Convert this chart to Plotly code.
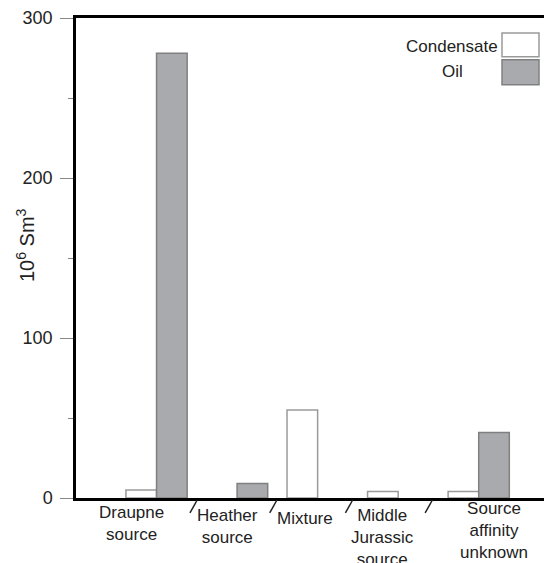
import plotly.graph_objects as go

categories = ["Draupne source", "Heather source", "Mixture", "Middle Jurassic source", "Source affinity unknown"]
category_labels = ["Draupne<br>source", "Heather<br>source", "Mixture", "Middle<br>Jurassic<br>source", "Source<br>affinity<br>unknown"]
condensate = [5, None, 55, 4, 4]
oil = [278, 9, None, None, 41]
y_ticks = [0, 100, 200, 300]

FONT = "Liberation Sans, Arial, sans-serif"
OFF = 8  # default body margin of the html page
W, H = 552 - OFF, 563 - OFF
L, T, B, R = 76 - OFF, 16 - OFF, 65, 0
plot_w = W - L - R
plot_h = H - T - B

def px_to_paper_x(px):
    return (px - OFF - L) / plot_w

def px_to_paper_y(py):
    return (H + OFF - B - py) / plot_h

fig = go.Figure()
fig.add_trace(go.Bar(x=categories, y=condensate, name="Condensate",
                     marker=dict(color="white", line=dict(color="#9a9a9a", width=1.5)),
                     showlegend=False))
fig.add_trace(go.Bar(x=categories, y=oil, name="Oil",
                     marker=dict(color="#a9aaae", line=dict(color="#808080", width=1.5)),
                     showlegend=False))

# category labels (offset as in reference)
label_x = [-0.31, 0.88, 1.84, 2.81, 4.19]
label_top = [501, 504, 507, 504, 497]
annotations = []
for lx, ly, txt in zip(label_x, label_top, category_labels):
    annotations.append(dict(x=lx, xref="x", y=px_to_paper_y(ly), yref="paper",
                            text=txt, showarrow=False, xanchor="center", yanchor="top",
                            font=dict(family=FONT, size=17, color="#222")))

# y axis title
annotations.append(dict(x=px_to_paper_x(25), xref="paper", y=px_to_paper_y(244), yref="paper",
                        text="10<sup>6</sup> Sm<sup>3</sup>", textangle=-90, showarrow=False,
                        xanchor="center", yanchor="middle",
                        font=dict(family=FONT, size=20, color="#222")))

# custom legend
shapes = []
leg = [("Condensate", "white", "#9a9a9a", 31, 55, 45), ("Oil", "#a9aaae", "#808080", 58, 83, 70)]
for name, fc, lc, y0, y1, yc in leg:
    shapes.append(dict(type="rect", xref="paper", yref="paper",
                       x0=px_to_paper_x(502), x1=px_to_paper_x(539),
                       y0=px_to_paper_y(y1), y1=px_to_paper_y(y0),
                       fillcolor=fc, line=dict(color=lc, width=1.5)))
    annotations.append(dict(x=px_to_paper_x(452), xref="paper", y=px_to_paper_y(yc), yref="paper",
                            text=name, showarrow=False, xanchor="center", yanchor="middle",
                            font=dict(family=FONT, size=17, color="#222")))

# slash separators between categories
for sx in [0.46, 1.45, 2.39, 3.38]:
    shapes.append(dict(type="line", xref="x", yref="paper",
                       x0=sx - 0.045, x1=sx + 0.045,
                       y0=px_to_paper_y(513), y1=px_to_paper_y(500),
                       line=dict(color="#222", width=1.5)))

fig.update_layout(
    width=W, height=H,
    margin=dict(l=L, r=R, t=T, b=B, pad=0),
    paper_bgcolor="white", plot_bgcolor="white",
    barmode="group", bargap=0.24, bargroupgap=0,
    annotations=annotations, shapes=shapes,
    font=dict(family=FONT, color="#222"),
)
fig.update_xaxes(type="category", range=[-1, 4.91], showticklabels=False, ticks="",
                 showline=True, mirror=True, linecolor="black", linewidth=2.5,
                 showgrid=False, zeroline=False, fixedrange=True)
fig.update_yaxes(range=[0, 300], tickvals=y_ticks, ticks="outside", ticklen=13, tickwidth=1,
                 tickcolor="#888", ticklabelstandoff=4, ticklabeloverflow="allow",
                 minor=dict(tickvals=[50, 150, 250], ticks="outside", ticklen=5, tickwidth=1, tickcolor="#888"),
                 tickfont=dict(family=FONT, size=18, color="#222"),
                 showline=True, linecolor="black", linewidth=2.5,
                 showgrid=False, zeroline=False, fixedrange=True)

fig.write_html("out.html")
